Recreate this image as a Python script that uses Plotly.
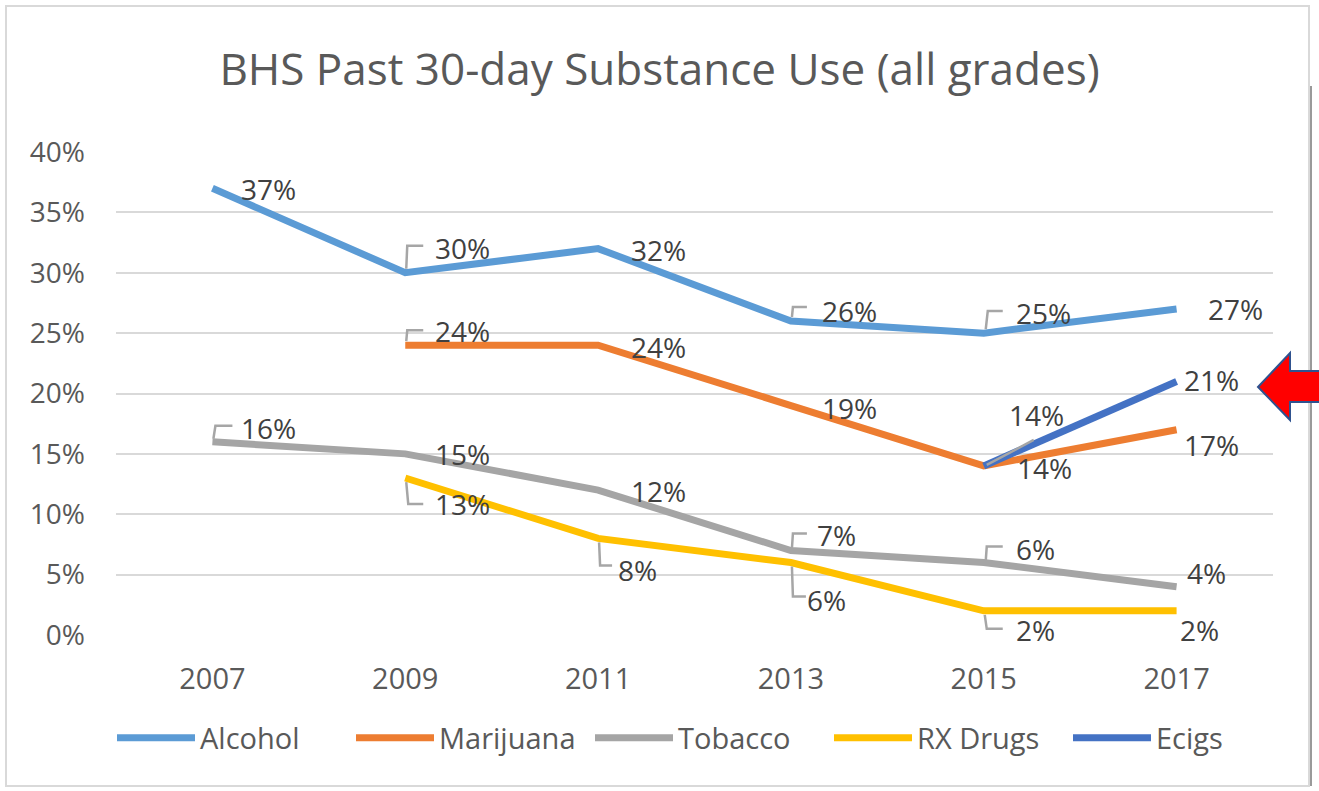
import plotly.graph_objects as go

years = ["2007", "2009", "2011", "2013", "2015", "2017"]
alcohol = [37, 30, 32, 26, 25, 27]
marijuana = [None, 24, 24, 19, 14, 17]
tobacco = [16, 15, 12, 7, 6, 4]
rx_drugs = [None, 13, 8, 6, 2, 2]
ecigs = [None, None, None, None, 14, 21]
y_ticks = [0, 5, 10, 15, 20, 25, 30, 35, 40]

series = [
    ("Alcohol", alcohol, "#5B9BD5"),
    ("Marijuana", marijuana, "#ED7D31"),
    ("Tobacco", tobacco, "#A5A5A5"),
    ("RX Drugs", rx_drugs, "#FFC000"),
    ("Ecigs", ecigs, "#4472C4"),
]

# label offsets in pixels (dx, dy-up) per series per point
label_offsets = {
    "Alcohol": [(56, -1), (57, 25), (60, -1), (59, 10), (60, 20), (59, 0)],
    "Marijuana": [None, (57, 14), (60, -2), (59, -2), (61, -2), (35, -15)],
    "Tobacco": [(56, 14), (57, 0), (60, -1), (46, 15), (52, 14), (30, 14)],
    "RX Drugs": [None, (57, -26), (39, -32), (36, -37), (52, -19), (23, -19)],
    "Ecigs": [None, None, None, None, (53, 51), (35, 1)],
}
# leader bracket polylines (pixel offsets, dy-up, relative to the point)
leaders = {
    "Alcohol": [None, [(1, 4), (2, 27), (18, 27)], None, [(1, 4), (2, 14), (16, 14)], [(2, 4), (4, 22), (19, 22)], None],
    "Marijuana": [None, [(1, 4), (2, 15), (18, 15)], None, None, None, None],
    "Tobacco": [[(1, 3), (3, 16), (20, 16)], None, None, [(1, 2), (2, 17), (16, 17)], [(2, 2), (3, 16), (19, 16)], None],
    "RX Drugs": [None, [(1, -4), (3, -26), (18, -26)], [(1, -4), (2, -27), (14, -27)], [(1, -4), (2, -34), (15, -34)], [(1, -4), (3, -18), (19, -18)], None],
    "Ecigs": [None, None, None, None, [(3, 1), (50, 26)], None],
}

# plot-area pixel geometry
L, R, T, B = 116, 1273, 152, 635
YMAX = 40

def px(x):
    return (x - L) / (R - L)

def py(y):
    return (B - y) / (B - T)

def point_px(i, v):
    return L + (i + 0.5) * (R - L) / len(years), B - v * (B - T) / YMAX

fig = go.Figure()
for name, vals, col in series:
    fig.add_trace(go.Scatter(
        x=years, y=vals, name=name, mode="lines",
        line=dict(color=col, width=7), connectgaps=False,
        hoverinfo="skip",
    ))

annotations = []
shapes = []
for name, vals, col in series:
    for i, v in enumerate(vals):
        if v is None:
            continue
        off = label_offsets[name][i]
        if off is not None:
            annotations.append(dict(
                x=i, y=v, xref="x", yref="y", text=f"{v}%",
                showarrow=False, xshift=off[0], yshift=off[1],
                font=dict(family="Open Sans", size=28, color="#404040"),
            ))
        lp = leaders[name][i]
        if lp:
            cx, cy = point_px(i, v)
            path = "M" + " L".join(f"{px(cx + a):.5f},{py(cy - b):.5f}" for a, b in lp)
            shapes.append(dict(
                type="path", xref="paper", yref="paper", path=path,
                line=dict(color="#A6A6A6", width=2.5),
            ))

# outer chart border
shapes.append(dict(type="rect", xref="paper", yref="paper",
                   x0=px(6), x1=px(1309), y0=py(6), y1=py(786),
                   line=dict(color="#D9D9D9", width=2), layer="below"))
shapes.append(dict(type="line", xref="paper", yref="paper",
                   x0=px(1311), x1=px(1311), y0=py(86), y1=py(786),
                   line=dict(color="#9A9A9A", width=2)))

# red arrow pointing left
pts = [(1258, 387), (1290, 353), (1290, 371), (1322, 371), (1322, 402), (1290, 402), (1290, 420)]
apath = "M" + " L".join(f"{px(a):.5f},{py(b):.5f}" for a, b in pts) + " Z"
shapes.append(dict(type="path", xref="paper", yref="paper", path=apath,
                   fillcolor="#FF0000", line=dict(color="#2F528F", width=2)))

fig.update_layout(
    width=1319, height=791,
    margin=dict(l=L, r=1319 - R, t=T, b=791 - B, autoexpand=False),
    paper_bgcolor="white", plot_bgcolor="white",
    title=dict(text="BHS Past 30-day Substance Use (all grades)",
               x=0.5, xanchor="center", xref="container",
               y=1 - 70 / 791, yanchor="middle", yref="container",
               font=dict(family="Open Sans", size=44, color="#595959")),
    xaxis=dict(type="category", categoryorder="array", categoryarray=years,
               range=[-0.5, 5.5], showgrid=False, showline=False, zeroline=False,
               tickfont=dict(family="Open Sans", size=29, color="#595959"),
               ticklabelstandoff=24, ticks=""),
    yaxis=dict(range=[0, YMAX], tickmode="array", tickvals=y_ticks,
               ticktext=[f"{t}%" for t in y_ticks],
               showgrid=True, gridcolor="#D9D9D9", gridwidth=2,
               zeroline=False, showline=False,
               tickfont=dict(family="Open Sans", size=28, color="#595959"),
               ticklabelstandoff=30, ticks=""),
    legend=dict(orientation="h", x=px(112), xanchor="left",
                y=py(738), yanchor="middle", bgcolor="rgba(0,0,0,0)",
                font=dict(family="Open Sans", size=29, color="#595959"),
                itemwidth=78, entrywidth=146, traceorder="normal"),
    annotations=annotations,
    shapes=shapes,
    showlegend=True,
)

fig.write_html("out.html")
